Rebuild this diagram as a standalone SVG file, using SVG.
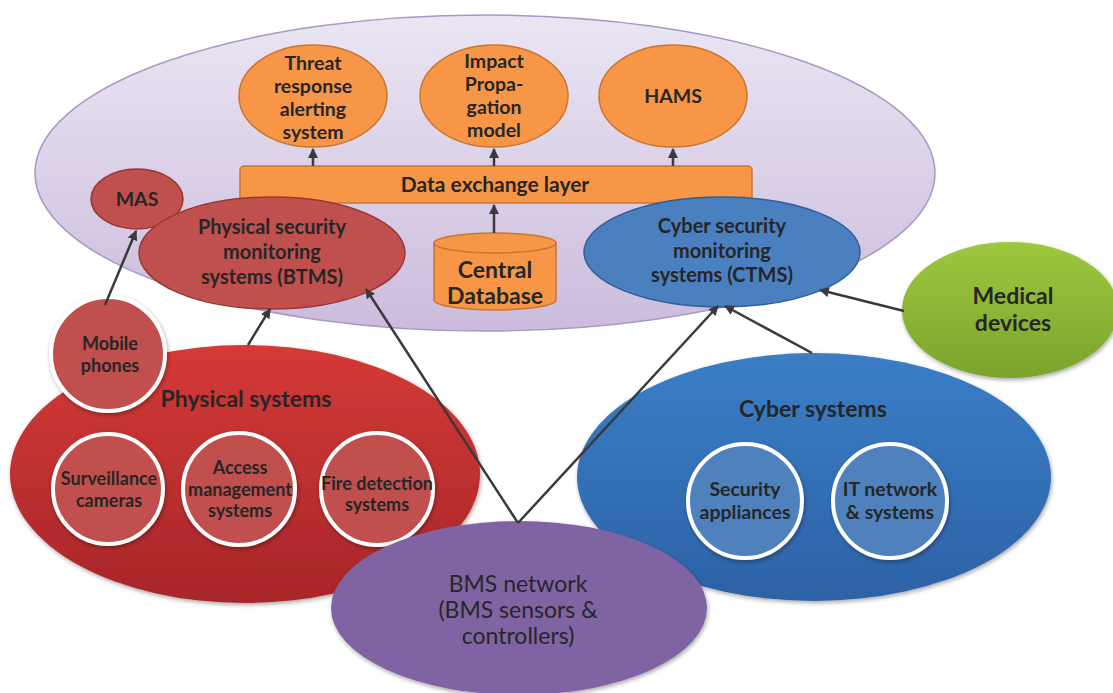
<svg xmlns="http://www.w3.org/2000/svg" width="1113" height="693" viewBox="0 0 1113 693">
  <defs>
    <linearGradient id="gLav" x1="0" y1="0" x2="0" y2="1">
      <stop offset="0" stop-color="#ebe5f3"/>
      <stop offset="1" stop-color="#cbbcdd"/>
    </linearGradient>
    <linearGradient id="gRed" x1="0" y1="0" x2="0" y2="1">
      <stop offset="0" stop-color="#d43a36"/>
      <stop offset="1" stop-color="#a8262a"/>
    </linearGradient>
    <linearGradient id="gBlue" x1="0" y1="0" x2="0" y2="1">
      <stop offset="0" stop-color="#3a7ec6"/>
      <stop offset="1" stop-color="#2d62a6"/>
    </linearGradient>
    <linearGradient id="gGreen" x1="0" y1="0" x2="0" y2="1">
      <stop offset="0" stop-color="#9dc83e"/>
      <stop offset="1" stop-color="#7aa42c"/>
    </linearGradient>
    <filter id="shadow" x="-20%" y="-20%" width="140%" height="140%">
      <feDropShadow dx="1" dy="2" stdDeviation="2" flood-color="#000" flood-opacity="0.35"/>
    </filter>
    <marker id="arrow" viewBox="0 0 10 10" refX="9" refY="5" markerWidth="4" markerHeight="4" orient="auto-start-reverse">
      <path d="M0,0 L10,5 L0,10 z" fill="#3a3a3a"/>
    </marker>
    <style>
      text { font-family: Lato, "Open Sans", "Liberation Sans", sans-serif; font-weight: bold; fill: #262626; text-anchor: middle; }
      .t20 { font-size: 20px; }
      .t19 { font-size: 19.5px; }
      .t18 { font-size: 18px; }
      .t21 { font-size: 21px; }
      .t23 { font-size: 23px; }
      .reg { font-weight: normal; font-size: 23px; }
      .orange { fill: #f79646; stroke: #c9772f; stroke-width: 1.5; }
      .redn { fill: #c0504d; stroke: #9a3634; stroke-width: 1.5; }
      .bluen { fill: #4a7fc0; stroke: #2f5f98; stroke-width: 1.5; }
      .redsub { fill: #c0504d; stroke: #ffffff; stroke-width: 4; }
      .bluesub { fill: #4f81bd; stroke: #ffffff; stroke-width: 4; }
      .conn line { stroke: #3a3a3a; stroke-width: 2.5; marker-end: url(#arrow); }
    </style>
  </defs>

  <!-- Monitoring / integration platform envelope -->
  <g id="platform">
    <ellipse cx="485" cy="173" rx="450" ry="158" fill="url(#gLav)" stroke="#a898c4" stroke-width="1.5"/>
  </g>

  <!-- Analysis services -->
  <g id="threat-response">
    <ellipse class="orange" cx="313" cy="96" rx="74" ry="51"/>
    <text class="t19" x="313" y="70">Threat</text>
    <text class="t19" x="313" y="93">response</text>
    <text class="t19" x="313" y="116">alerting</text>
    <text class="t19" x="313" y="139">system</text>
  </g>
  <g id="impact-propagation">
    <ellipse class="orange" cx="494" cy="96" rx="74" ry="51"/>
    <text class="t19" x="494" y="68">Impact</text>
    <text class="t19" x="494" y="91">Propa-</text>
    <text class="t19" x="494" y="114">gation</text>
    <text class="t19" x="494" y="137">model</text>
  </g>
  <g id="hams">
    <ellipse class="orange" cx="673" cy="96" rx="74" ry="51"/>
    <text class="t19" x="673" y="103">HAMS</text>
  </g>

  <!-- Shared data exchange layer -->
  <g id="data-exchange">
    <rect class="orange" x="240" y="166" width="512" height="37" rx="4"/>
    <text class="t21" x="495" y="192">Data exchange layer</text>
  </g>

  <g id="mas">
    <ellipse class="redn" cx="137" cy="199" rx="46" ry="30"/>
    <text class="t19" x="137" y="206">MAS</text>
  </g>

  <g id="btms">
    <ellipse class="redn" cx="272" cy="253" rx="133" ry="56"/>
    <text class="t20" x="272" y="234">Physical security</text>
    <text class="t20" x="272" y="259">monitoring</text>
    <text class="t20" x="272" y="284">systems (BTMS)</text>
  </g>

  <g id="central-db">
    <path class="orange" d="M434,243 L434,300 A61,10 0 0 0 556,300 L556,243 A61,10 0 0 0 434,243 Z"/>
    <path d="M434,243 A61,10 0 0 0 556,243" fill="none" stroke="#c9772f" stroke-width="1.5"/>
    <text class="t23" x="495" y="278">Central</text>
    <text class="t23" x="495" y="304">Database</text>
  </g>

  <g id="ctms">
    <ellipse class="bluen" cx="722" cy="252" rx="138" ry="55"/>
    <text class="t20" x="722" y="233">Cyber security</text>
    <text class="t20" x="722" y="258">monitoring</text>
    <text class="t20" x="722" y="282">systems (CTMS)</text>
  </g>

  <g id="medical-devices">
    <ellipse cx="1010" cy="310" rx="108" ry="68" fill="url(#gGreen)" filter="url(#shadow)"/>
    <text class="t23" x="1013" y="304">Medical</text>
    <text class="t23" x="1013" y="331">devices</text>
  </g>

  <!-- Physical domain -->
  <g id="physical-systems">
    <ellipse cx="245" cy="474" rx="235" ry="129" fill="url(#gRed)" filter="url(#shadow)"/>
    <text class="t23" x="246" y="407">Physical systems</text>
  </g>
  <g id="mobile-phones">
    <circle class="redsub" cx="108" cy="354" r="57" filter="url(#shadow)"/>
    <text class="t18" x="110" y="350">Mobile</text>
    <text class="t18" x="110" y="372">phones</text>
  </g>
  <g id="surveillance">
    <circle class="redsub" cx="108" cy="489" r="55" filter="url(#shadow)"/>
    <text class="t18" x="109" y="485">Surveillance</text>
    <text class="t18" x="109" y="507">cameras</text>
  </g>
  <g id="access-mgmt">
    <circle class="redsub" cx="239" cy="489" r="56" filter="url(#shadow)"/>
    <text class="t18" x="240" y="474">Access</text>
    <text class="t18" x="240" y="496">management</text>
    <text class="t18" x="240" y="517">systems</text>
  </g>
  <g id="fire-detection">
    <circle class="redsub" cx="377" cy="489" r="56" filter="url(#shadow)"/>
    <text class="t18" x="377" y="490">Fire detection</text>
    <text class="t18" x="377" y="511">systems</text>
  </g>

  <!-- Cyber domain -->
  <g id="cyber-systems">
    <ellipse cx="814" cy="477" rx="237" ry="124" fill="url(#gBlue)" filter="url(#shadow)"/>
    <text class="t23" x="813" y="417">Cyber systems</text>
  </g>
  <g id="security-appliances">
    <circle class="bluesub" cx="745" cy="501" r="57" filter="url(#shadow)"/>
    <text class="t19" x="745" y="496">Security</text>
    <text class="t19" x="745" y="519">appliances</text>
  </g>
  <g id="it-network">
    <circle class="bluesub" cx="890" cy="501" r="57" filter="url(#shadow)"/>
    <text class="t19" x="890" y="496">IT network</text>
    <text class="t19" x="890" y="519">&amp; systems</text>
  </g>

  <!-- Building management network -->
  <g id="bms-network">
    <ellipse cx="519" cy="608" rx="188" ry="87" fill="#8064a2" filter="url(#shadow)"/>
    <text class="reg" x="518" y="592">BMS network</text>
    <text class="reg" x="518" y="618">(BMS sensors &amp;</text>
    <text class="reg" x="518" y="644">controllers)</text>
  </g>

  <!-- Connectors -->
  <g id="connectors" class="conn">
    <line x1="313" y1="166" x2="313" y2="149"/>
    <line x1="494" y1="166" x2="494" y2="149"/>
    <line x1="673" y1="166" x2="673" y2="149"/>
    <line x1="494" y1="233" x2="494" y2="205"/>
    <line x1="105" y1="305" x2="136" y2="231"/>
    <line x1="248" y1="345" x2="270" y2="309"/>
    <line x1="518" y1="523" x2="366" y2="289"/>
    <line x1="518" y1="523" x2="718" y2="306"/>
    <line x1="812" y1="353" x2="725" y2="306"/>
    <line x1="904" y1="311" x2="820" y2="290"/>
  </g>
</svg>
